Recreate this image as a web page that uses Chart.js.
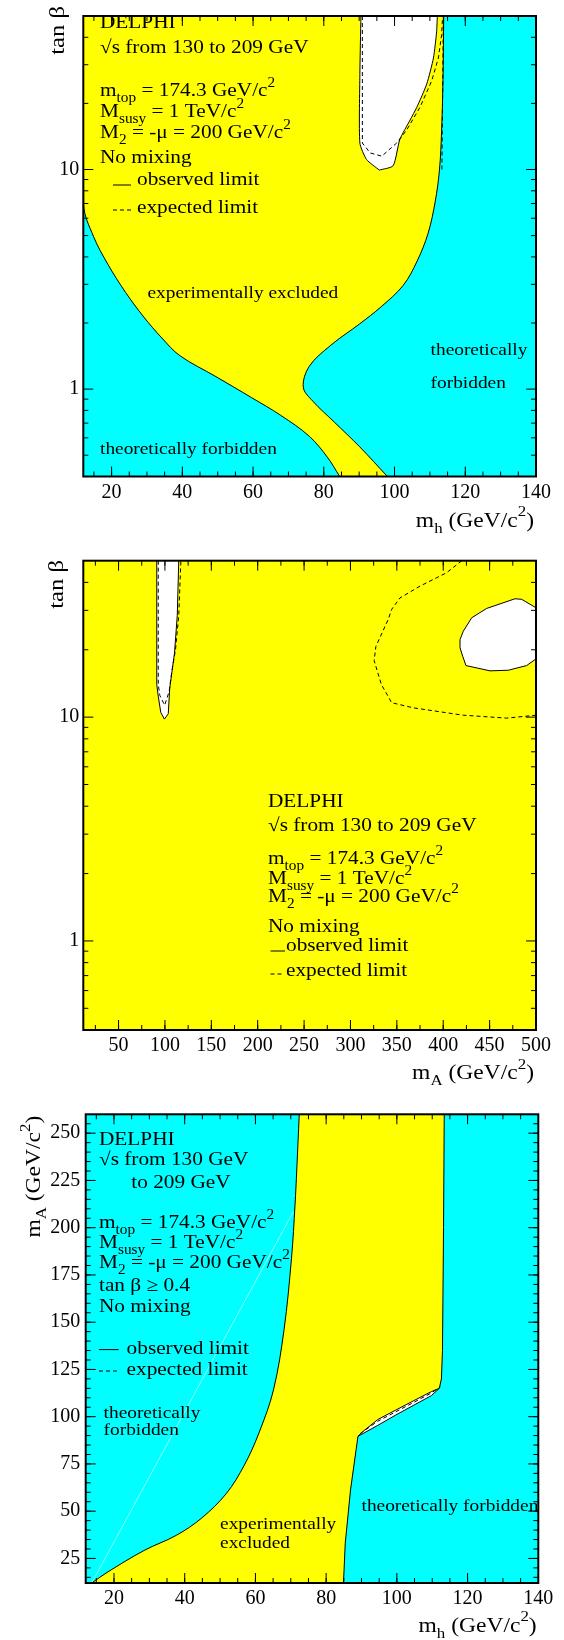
<!DOCTYPE html>
<html>
<head>
<meta charset="utf-8">
<script src="https://cdn.jsdelivr.net/npm/chart.js@4.4.1/dist/chart.umd.min.js"></script>
<style>
  body { margin: 0; background: #fff; }
  #page { position: relative; width: 564px; height: 1640px; }
  canvas { position: absolute; left: 0; }
</style>
</head>
<body>
<div id="page">
  <canvas id="c1" width="564" height="540" style="top:0"></canvas>
  <canvas id="c2" width="564" height="560" style="top:540px"></canvas>
  <canvas id="c3" width="564" height="560" style="top:1080px"></canvas>
</div>
<script>
// DELPHI "no mixing" exclusion plots, three stacked panels
const YELLOW = '#ffff00', CYAN = '#00ffff';
const FONT = "'Liberation Serif', 'Times New Roman', serif";
const HS = 1.12; // the reference glyphs are a bit wider than Times

// ---- panel 1 : tan(beta) vs m_h ----
const p1XTicks = [20, 40, 60, 80, 100, 120, 140];
const p1YTicks = [1, 10];
// [m_h, tan beta]
const p1Left = [[84.5,0.40],[81.0,0.49],[75.9,0.61],[67.8,0.76],[59.6,0.914],[49.5,1.14],[39.3,1.42],[34.2,1.71],[29.1,2.13],[24.0,2.75],[19.0,3.69],[14.9,4.95],[12.1,6.9],[12,50]];
const p1Right = [[98.0,0.40],[90.1,0.547],[83.0,0.707],[76.9,0.881],[74.2,1.02],[75.9,1.27],[82.0,1.585],[90.1,1.98],[96.2,2.37],[102.4,2.96],[106.4,3.83],[109.5,5.13],[111.5,7.14],[112.7,9.94],[113.3,14.9],[113.7,25.8],[113.9,50]];
const p1HoleLeft = [[95.7,9.94],[92.1,11.1],[90.2,13.2],[90.2,27.1],[90.5,50]];
const p1HoleRight = [[95.7,9.94],[99.6,10.4],[101.5,13.7],[104.4,16.8],[106.3,19.2],[109.1,24.5],[111.0,32.2],[111.9,42.4],[112.1,50]];
const p1ExpHole = [[90.9,50],[90.9,13.2],[93.1,11.9],[96.4,11.5],[100.6,13.2],[103.4,15.1],[107.2,19.2],[110.5,25.3],[112.4,32.2],[113.3,40.9],[113.6,50]];
const p1ExpEdge = [[113.4,10.0],[113.8,50]];

// ---- panel 2 : tan(beta) vs m_A ----
const p2XTicks = [50, 100, 150, 200, 250, 300, 350, 400, 450, 500];
const p2YTicks = [1, 10];
// [m_A, tan beta]
const p2HoleALeft = [[99.4,9.8],[95.5,10.5],[92.8,12.4],[91.2,14.0],[91.2,50]];
const p2HoleARight = [[99.4,9.8],[103.6,10.35],[105.2,13.5],[110.3,19.3],[113.3,28.5],[114.9,50]];
const p2ExpA = [[92.8,50],[92.8,14.0],[94.5,12.5],[99.7,11.3],[104.5,13.0],[107.5,16.1],[111.4,20.0],[114.9,28.5],[117.2,50]];
const p2HoleBLeft = [[450.4,16.1],[424.5,17.0],[421.0,18.7],[418.1,20.4],[418.1,22.2],[421.6,24.2],[430.7,27.8],[446.8,30.6],[477.4,33.8]];
const p2HoleBRight = [[450.4,16.1],[470.1,16.2],[489.9,17.0],[500,18.2],[500,30.8],[484.6,33.6],[477.4,33.8]];
const p2ExpB = [[420,50],[403.7,44.2],[375,38.5],[353.4,34.1],[344.4,30.3],[341.0,27.5],[327.4,20.7],[325.5,17.9],[333.3,14.0],[344.4,11.6],[368,11.0],[421.6,10.2],[468.4,9.9],[500,10.2]];

// ---- panel 3 : m_A vs m_h ----
const p3XTicks = [20, 40, 60, 80, 100, 120, 140];
const p3YTicks = [25, 50, 75, 100, 125, 150, 175, 200, 225, 250];
// [m_h, m_A]
const p3Left = [[13.7,12],[18.3,17.9],[28.5,29.2],[37.6,37.2],[44.7,46.2],[51.8,59.4],[56.9,74.5],[61.0,91.4],[65.1,114.1],[68.1,146.1],[70.2,183.8],[71.2,212.1],[71.7,231],[72.4,260]];
const p3Right = [[84.9,12],[85.4,33],[86.9,61.3],[89.0,89.6],[94.5,95.3],[99.7,100.9],[105,106.3],[109.8,111.2],[112.0,115.0],[112.6,120],[112.9,135],[113.2,200],[113.4,260]];
const p3Sliver = [[89.0,89.6],[90.3,92.0],[94.6,98.5],[99.7,103.5],[104.8,108.5],[109.8,113.3],[112.0,115.0]];
const p3Exp = [[89.6,91.0],[94.6,97.6],[99.7,102.6],[104.8,107.6],[109.8,112.6],[112.3,115.8]];
const p3Diag = [[13.7,12],[70.7,208.4]];

const logMinor = [0.5,0.6,0.7,0.8,0.9,2,3,4,5,6,7,8,9,20,30,40];
function every(a, b, s) { const r = []; for (let v = a; v <= b + 1e-9; v += s) r.push(v); return r; }

const pts = a => a.map(([x, y]) => ({x, y}));
function curve(arr, extra) {
  return Object.assign({data: pts(arr), borderColor: '#000', borderWidth: 1, pointRadius: 0, fill: false, tension: 0}, extra);
}
const dashed = {borderDash: [4, 3]};

// rich text: parts are [text, 0 | -1 (sub) | 1 (sup)]
function drawRich(ctx, t) {
  const parts = typeof t.text === 'string' ? [[t.text, 0]] : t.text;
  const fontOf = k => `${k ? t.size * 0.72 : t.size}px ${FONT}`;
  ctx.save();
  ctx.translate(t.x, t.y);
  if (t.rot) ctx.rotate(t.rot);
  ctx.scale(HS, 1);
  ctx.fillStyle = '#000';
  ctx.textBaseline = 'alphabetic';
  let w = 0;
  if (t.align === 'right') {
    for (const [s, k] of parts) { ctx.font = fontOf(k || 0); w += ctx.measureText(s).width; }
  }
  let cx = -w;
  for (const [s, k] of parts) {
    ctx.font = fontOf(k || 0);
    const dy = k === -1 ? t.size * 0.3 : k === 1 ? -t.size * 0.5 : 0;
    ctx.fillText(s, cx, dy);
    cx += ctx.measureText(s).width;
  }
  ctx.restore();
}

const plotBg = {
  id: 'plotBg',
  beforeDraw(chart, args, o) {
    const {ctx, chartArea: c} = chart;
    ctx.save();
    ctx.fillStyle = o.color;
    ctx.fillRect(c.left, c.top, c.width, c.height);
    ctx.restore();
  }
};

const frameTicks = {
  id: 'frameTicks',
  afterDraw(chart, args, o) {
    const {ctx, chartArea: c, scales: {x, y}} = chart;
    const seg = (x1, y1, x2, y2) => { ctx.beginPath(); ctx.moveTo(x1, y1); ctx.lineTo(x2, y2); ctx.stroke(); };
    ctx.save();
    ctx.strokeStyle = '#000';
    ctx.lineWidth = 1;
    const xt = (vals, len) => vals.forEach(v => {
      if (v <= x.min || v >= x.max) return;
      const p = x.getPixelForValue(v);
      seg(p, c.bottom, p, c.bottom - len);
      seg(p, c.top, p, c.top + len);
    });
    const yt = (vals, len) => vals.forEach(v => {
      if (v <= y.min || v >= y.max) return;
      const p = y.getPixelForValue(v);
      seg(c.left, p, c.left + len, p);
      seg(c.right, p, c.right - len, p);
    });
    xt(o.xMinor, 5); xt(o.xMajor, 10);
    yt(o.yMinor, 5); yt(o.yMajor, 10);
    ctx.lineWidth = 2;
    ctx.strokeRect(c.left, c.top, c.width, c.height);
    ctx.restore();
  }
};

const notes = {
  id: 'notes',
  afterDraw(chart, args, o) {
    const ctx = chart.ctx;
    (o.items || []).forEach(t => drawRich(ctx, t));
    (o.samples || []).forEach(s => {
      ctx.save();
      ctx.strokeStyle = '#000';
      ctx.lineWidth = 1;
      ctx.setLineDash(s.dash || []);
      ctx.beginPath();
      ctx.moveTo(s.x1, s.y);
      ctx.lineTo(s.x2, s.y);
      ctx.stroke();
      ctx.restore();
    });
  }
};

function makePanel(id, p) {
  const canvas = document.getElementById(id);
  const H = canvas.height;
  const tickFont = {family: FONT, size: 20};
  return new Chart(canvas, {
    type: 'line',
    data: {datasets: p.datasets},
    options: {
      responsive: false,
      animation: false,
      devicePixelRatio: 1,
      indexAxis: 'y',
      layout: {padding: {left: 0, top: p.area.top, right: 564 - p.area.right, bottom: 0}},
      elements: {point: {radius: 0}},
      plugins: {
        legend: {display: false},
        tooltip: {enabled: false},
        filler: {drawTime: 'beforeDatasetsDraw', propagate: false},
        plotBg: {color: p.bg},
        frameTicks: p.ticks,
        notes: {items: p.notes, samples: p.samples}
      },
      scales: {
        x: {
          type: 'linear', position: 'bottom', min: p.x.min, max: p.x.max, bounds: 'data',
          grid: {display: false, drawTicks: false}, border: {display: false},
          ticks: {autoSkip: false, maxRotation: 0, color: '#000', font: tickFont, padding: 4, callback: v => String(v)},
          afterBuildTicks: s => { s.ticks = p.x.ticks.map(v => ({value: v})); },
          afterFit: s => { s.height = H - p.area.bottom; }
        },
        y: {
          type: p.y.type, position: 'left', min: p.y.min, max: p.y.max, bounds: 'data',
          grid: {display: false, drawTicks: false}, border: {display: false},
          ticks: {autoSkip: false, color: '#000', font: tickFont, padding: p.y.pad, callback: v => String(v)},
          afterBuildTicks: s => { s.ticks = p.y.ticks.map(v => ({value: v})); },
          afterFit: s => { s.width = p.area.left; }
        }
      }
    },
    plugins: [plotBg, frameTicks, notes]
  });
}

const SUB = -1, SUP = 1;
const mTop = [['m'], ['top', SUB], [' = 174.3 GeV/c'], ['2', SUP]];
const mSusy = [['M'], ['susy', SUB], [' = 1 TeV/c'], ['2', SUP]];
const m2 = [['M'], ['2', SUB], [' = -μ = 200 GeV/c'], ['2', SUP]];
const mhTitle = [['m'], ['h', SUB], [' (GeV/c'], ['2', SUP], [')']];
const maTitle = [['m'], ['A', SUB], [' (GeV/c'], ['2', SUP], [')']];

// panel 1
makePanel('c1', {
  area: {left: 83.3, top: 7.3, right: 536, bottom: 476.5},
  bg: CYAN,
  x: {min: 12, max: 140, ticks: p1XTicks},
  y: {type: 'logarithmic', min: 0.4, max: 50, ticks: p1YTicks, pad: 4},
  ticks: {xMajor: p1XTicks, xMinor: every(15, 135, 5), yMajor: p1YTicks, yMinor: logMinor},
  datasets: [
    curve(p1HoleRight, {fill: 1, backgroundColor: '#ffffff', tension: 0.2}),
    curve(p1HoleLeft, {tension: 0.2}),
    curve(p1ExpHole, dashed),
    curve(p1ExpEdge, dashed),
    curve(p1Right, {fill: 5, backgroundColor: YELLOW, tension: 0.35}),
    curve(p1Left, {tension: 0.35})
  ],
  notes: [
    {x: 100, y: 28, size: 19, text: 'DELPHI'},
    {x: 100, y: 53, size: 19, text: '√s from 130 to 209 GeV'},
    {x: 100, y: 96, size: 19, text: mTop},
    {x: 100, y: 117, size: 19, text: mSusy},
    {x: 100, y: 138, size: 19, text: m2},
    {x: 100, y: 163, size: 19, text: 'No mixing'},
    {x: 137, y: 185, size: 19, text: 'observed limit'},
    {x: 137, y: 213, size: 19, text: 'expected limit'},
    {x: 147.5, y: 298, size: 17.3, text: 'experimentally excluded'},
    {x: 430.6, y: 355, size: 17.3, text: 'theoretically'},
    {x: 430.6, y: 387.5, size: 17.3, text: 'forbidden'},
    {x: 100, y: 453.6, size: 17.3, text: 'theoretically forbidden'},
    {x: 534, y: 526.7, size: 21, align: 'right', text: mhTitle},
    {x: 64, y: 6, size: 22, align: 'right', rot: -Math.PI / 2, text: 'tan β'}
  ],
  samples: [
    {x1: 113, x2: 131, y: 185},
    {x1: 113, x2: 131, y: 210, dash: [4, 3]}
  ]
});

// panel 2
makePanel('c2', {
  area: {left: 83.3, top: 20.7, right: 536, bottom: 490},
  bg: YELLOW,
  x: {min: 12, max: 500, ticks: p2XTicks},
  y: {type: 'logarithmic', min: 0.4, max: 50, ticks: p2YTicks, pad: 4},
  ticks: {xMajor: p2XTicks, xMinor: every(25, 475, 25), yMajor: p2YTicks, yMinor: logMinor},
  datasets: [
    curve(p2HoleARight, {fill: 1, backgroundColor: '#ffffff'}),
    curve(p2HoleALeft),
    curve(p2HoleBRight, {fill: 3, backgroundColor: '#ffffff'}),
    curve(p2HoleBLeft),
    curve(p2ExpA, dashed),
    curve(p2ExpB, dashed)
  ],
  notes: [
    {x: 268, y: 267, size: 19, text: 'DELPHI'},
    {x: 268, y: 291, size: 19, text: '√s from 130 to 209 GeV'},
    {x: 268, y: 324, size: 19, text: mTop},
    {x: 268, y: 344, size: 19, text: mSusy},
    {x: 268, y: 362, size: 19, text: m2},
    {x: 268, y: 392, size: 19, text: 'No mixing'},
    {x: 286, y: 411, size: 19, text: 'observed limit'},
    {x: 286, y: 436, size: 19, text: 'expected limit'},
    {x: 534, y: 539, size: 21, align: 'right', text: maTitle},
    {x: 63, y: 20, size: 22, align: 'right', rot: -Math.PI / 2, text: 'tan β'}
  ],
  samples: [
    {x1: 270.5, x2: 285, y: 411},
    {x1: 270.5, x2: 283, y: 434, dash: [4, 3]}
  ]
});

// panel 3
makePanel('c3', {
  area: {left: 85.7, top: 34.3, right: 538.3, bottom: 503},
  bg: CYAN,
  x: {min: 12, max: 140, ticks: p3XTicks},
  y: {type: 'linear', min: 12, max: 260, ticks: p3YTicks, pad: 5.5},
  ticks: {xMajor: p3XTicks, xMinor: every(15, 135, 5), yMajor: p3YTicks, yMinor: every(15, 255, 5)},
  datasets: [
    curve(p3Sliver, {fill: 3, backgroundColor: '#ffffff'}),
    curve(p3Diag, {borderColor: '#8ffff2'}),
    curve(p3Exp, dashed),
    curve(p3Right, {fill: 4, backgroundColor: YELLOW}),
    curve(p3Left, {tension: 0.35})
  ],
  notes: [
    {x: 99, y: 65, size: 19, text: 'DELPHI'},
    {x: 99, y: 85, size: 19, text: '√s from 130 GeV'},
    {x: 131.3, y: 108, size: 19, text: 'to 209 GeV'},
    {x: 99, y: 148, size: 19, text: mTop},
    {x: 99, y: 168, size: 19, text: mSusy},
    {x: 99, y: 188, size: 19, text: m2},
    {x: 99, y: 210.7, size: 19, text: 'tan β ≥ 0.4'},
    {x: 99, y: 232, size: 19, text: 'No mixing'},
    {x: 126.6, y: 274, size: 19, text: 'observed limit'},
    {x: 126.6, y: 294.6, size: 19, text: 'expected limit'},
    {x: 103.6, y: 337.5, size: 17.3, text: 'theoretically'},
    {x: 103.6, y: 355.4, size: 17.3, text: 'forbidden'},
    {x: 220.1, y: 449, size: 17.3, text: 'experimentally'},
    {x: 220.1, y: 468, size: 17.3, text: 'excluded'},
    {x: 361.5, y: 431.4, size: 17.3, text: 'theoretically forbidden'},
    {x: 536.7, y: 551.7, size: 21, align: 'right', text: mhTitle},
    {x: 40, y: 35.7, size: 21, align: 'right', rot: -Math.PI / 2, text: maTitle}
  ],
  samples: [
    {x1: 99, x2: 118.7, y: 269.6},
    {x1: 99, x2: 118.7, y: 291, dash: [4, 3]}
  ]
});
</script>
</body>
</html>
